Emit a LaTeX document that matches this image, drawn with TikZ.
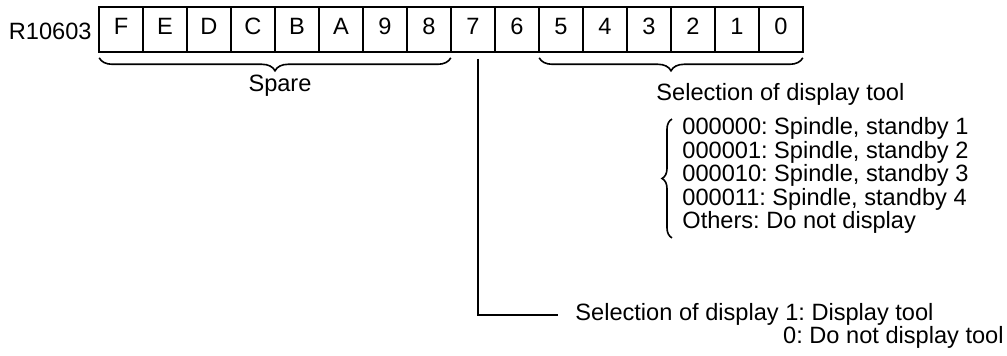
\documentclass[tikz,border=0pt]{standalone}
\usepackage{fontspec}
\setmainfont{Liberation Sans}
\usetikzlibrary{decorations.pathreplacing}
\frenchspacing

\begin{document}
\begin{tikzpicture}[
    x=0.5pt, y=-0.5pt, % une unité = un pixel de la figure
    every node/.style={font=\fontsize{11.8}{13}\selectfont, inner sep=0pt},
    case/.style={draw, line width=0.8pt, minimum width=22pt, minimum height=22.5pt,
        text height=8.45pt, text depth=3.45pt},
    accolade/.style={decorate, decoration={brace, mirror, amplitude=6.5pt}, line width=0.8pt},
    ligne/.style={line width=0.8pt}
]
\useasboundingbox (0,0) rectangle (1007,356);
% Registre
\node[anchor=base east] (reg) at (92,40) {R10603};
\foreach \lab [count=\i from 0] in {F,E,D,C,B,A,9,8,7,6,5,4,3,2,1,0} {
    \pgfmathtruncatemacro{\bit}{15-\i}
    \node[case] (b\bit) at ({121+44*\i},29.5) {\lab};
}
% Bits 8 à F
\draw[accolade] ([xshift=0.5pt,yshift=-2.5pt]b15.south west) -- ([xshift=-0.5pt,yshift=-2.5pt]b8.south east);
\node[anchor=base] (spare) at (280,92) {Spare};
% Bits 0 à 5
\draw[accolade] ([xshift=0.5pt,yshift=-2.5pt]b5.south west) -- ([xshift=-0.5pt,yshift=-2.5pt]b0.south east);
\node[anchor=base west] (outil) at (656,101) {Selection of display tool};
\foreach \txt [count=\i] in {{000000: Spindle, standby 1},{000001: Spindle, standby 2},
        {000010: Spindle, standby 3},{000011: Spindle, standby 4},{Others: Do not display}} {
    \node[anchor=base west] (l\i) at (682,{135+23.4*(\i-1)}) {\txt};
}
\draw[decorate, decoration={brace, amplitude=5pt}, line width=0.8pt]
    ([xshift=-5pt,yshift=-2pt]l5.south west) -- ([xshift=-5pt,yshift=-0.8pt]l1.north west);
% Bit 7
\node[anchor=base west] (sel) at (575,321) {Selection of display 1: Display tool};
\node[anchor=base east] (sel0) at (1004,344) {0: Do not display tool};
\draw[ligne] ([xshift=2.5pt,yshift=-3pt]b7.south) |- ([xshift=-8.5pt]sel.west);
\end{tikzpicture}
\end{document}
